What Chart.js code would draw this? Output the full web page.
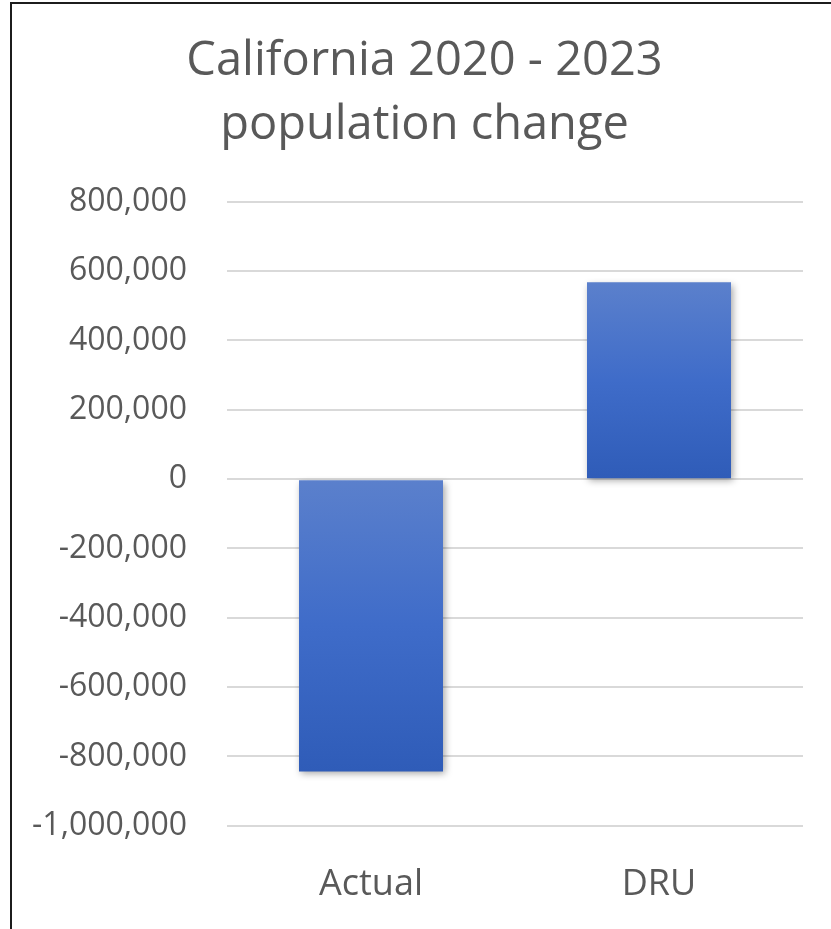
<!DOCTYPE html>
<html>
<head>
<meta charset="utf-8">
<script src="https://cdn.jsdelivr.net/npm/chart.js@4.4.1/dist/chart.umd.min.js"></script>
<style>
  html, body { margin: 0; padding: 0; background: #fff; overflow: hidden; }
  #frame {
    position: absolute; left: 10px; top: 2px;
    width: 840px; height: 990px;
    border-left: 2px solid #1c1c1c; border-top: 2px solid #1c1c1c;
  }
  #chart { display: block; }
</style>
</head>
<body>
<div id="frame"><canvas id="chart" width="819" height="959"></canvas></div>
<script>
// chart data
const categories = ['Actual', 'DRU'];
const popChange = [-843000, 568000];
const titleLines = ['California 2020 - 2023', 'population change'];

const textGrey = '#595959';

// gradient per bar, lighter at the top, darker at the bottom
function barGradient(context) {
    const chart = context.chart;
    const yScale = chart.scales.y;
    if (!chart.chartArea || !yScale) return '#3f6cc6';
    const v = context.raw;
    const top = yScale.getPixelForValue(Math.max(v, 0));
    const bottom = yScale.getPixelForValue(Math.min(v, 0));
    const g = chart.ctx.createLinearGradient(0, top, 0, bottom);
    g.addColorStop(0, '#5b80cc');
    g.addColorStop(0.5, '#3f6cc9');
    g.addColorStop(1, '#2f5cb8');
    return g;
}

// soft drop shadow under the bars
const barShadow = {
    id: 'barShadow',
    beforeDatasetsDraw(chart) {
        const ctx = chart.ctx;
        ctx.save();
        ctx.shadowColor = 'rgba(0,0,0,0.35)';
        ctx.shadowBlur = 7;
        ctx.shadowOffsetX = 2;
        ctx.shadowOffsetY = 3;
    },
    afterDatasetsDraw(chart) {
        chart.ctx.restore();
    }
};

// nudge the title a little to the right, the way the original sits
const titleNudge = {
    id: 'titleNudge',
    afterLayout(chart) {
        const t = chart.titleBlock;
        if (t) { t.left += 8; t.right += 8; }
    }
};

new Chart(document.getElementById('chart'), {
    type: 'bar',
    data: {
        labels: categories,
        datasets: [{
            data: popChange,
            backgroundColor: barGradient,
            borderWidth: 0,
            categoryPercentage: 1,
            barPercentage: 0.5
        }]
    },
    options: {
        responsive: false,
        animation: false,
        layout: { padding: { top: 20, left: 18, right: 28, bottom: 20 } },
        plugins: {
            legend: { display: false },
            tooltip: { enabled: false },
            title: {
                display: true,
                text: titleLines,
                color: textGrey,
                font: { family: 'Open Sans', size: 47, weight: 'normal', lineHeight: 1.36 },
                padding: { top: 6, bottom: 44 }
            }
        },
        scales: {
            x: {
                grid: { display: false, drawTicks: false },
                border: { display: false },
                ticks: {
                    color: textGrey,
                    padding: 37,
                    font: { family: 'Open Sans', size: 36 }
                }
            },
            y: {
                min: -1000000,
                max: 800000,
                afterFit: scale => { scale.width = 197; },
                grid: { color: '#d9d9d9', lineWidth: 2, drawTicks: false },
                border: { display: false },
                ticks: {
                    stepSize: 200000,
                    color: textGrey,
                    padding: 40,
                    font: { family: 'Open Sans', size: 32 },
                    callback: v => v.toLocaleString('en-US')
                }
            }
        }
    },
    plugins: [barShadow, titleNudge]
});
</script>
</body>
</html>
